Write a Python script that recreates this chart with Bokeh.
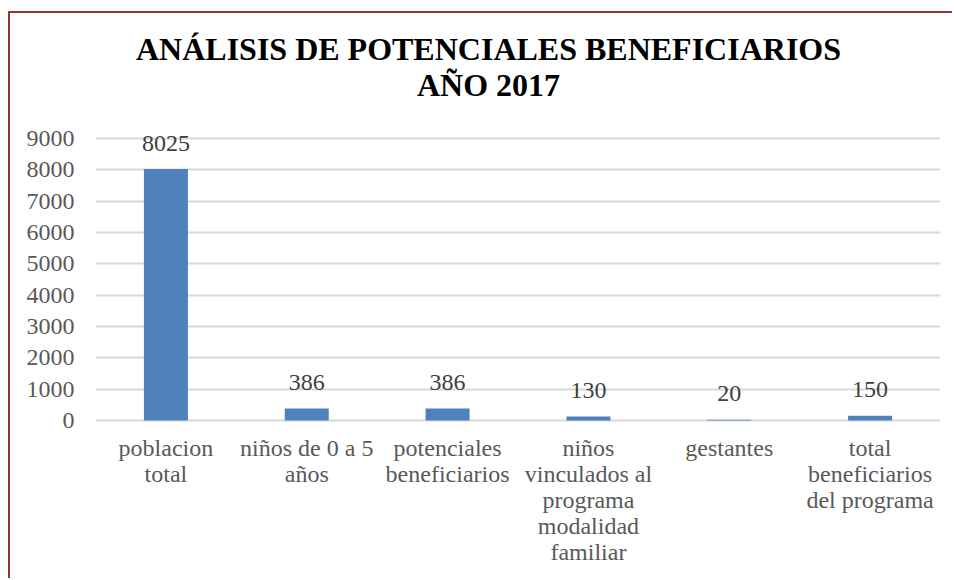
from bokeh.plotting import figure
from bokeh.models import FixedTicker, Label, ColumnDataSource, Range1d
from bokeh.core.properties import value
from bokeh.embed import file_html
from bokeh.resources import INLINE

categories = ["poblacion\ntotal", "niños de 0 a 5\naños", "potenciales\nbeneficiarios",
              "niños\nvinculados al\nprograma\nmodalidad\nfamiliar", "gestantes",
              "total\nbeneficiarios\ndel programa"]
values = [8025, 386, 386, 130, 20, 150]
value_labels = [str(v) for v in values]
y_ticks = [0, 1000, 2000, 3000, 4000, 5000, 6000, 7000, 8000, 9000]
title_lines = ["ANÁLISIS DE POTENCIALES BENEFICIARIOS", "AÑO 2017"]

FONT = "'Liberation Serif', 'Times New Roman', serif"
BORDER = "#993333"

# layout (page pixels)
CANVAS_TOP, CANVAS_BOTTOM = 13, 580
ZERO_PX, TOP_PX = 420, 138           # pixel rows of y=0 and y=9000
per_px = 9000 / (ZERO_PX - TOP_PX)
y_hi = (ZERO_PX - CANVAS_TOP) * per_px
y_lo = -(CANVAS_BOTTOM - ZERO_PX) * per_px

src = ColumnDataSource(dict(cat=categories, val=values, lab=value_labels,
                            zero=[0] * len(values)))

p = figure(x_range=categories, y_range=Range1d(y_lo, y_hi),
           width=944, height=CANVAS_BOTTOM - CANVAS_TOP,
           output_backend="svg", toolbar_location=None, x_axis_location=None,
           min_border_left=85, min_border_right=14, min_border_top=0, min_border_bottom=0)
p.x_range.range_padding = 0
p.outline_line_color = None
p.styles = {"border-top": f"2px solid {BORDER}", "border-left": f"2px solid {BORDER}",
            "margin-top": "11px", "margin-left": "8px"}

p.vbar(x="cat", top="val", width=0.3125, source=src, fill_color="#4F81BD", line_color=None)
p.text(x="cat", y="val", text="lab", source=src, text_align="center",
       text_baseline="alphabetic", y_offset=-26, text_font_size="24px",
       text_color="#404040", text_font=value(FONT))
p.text(x="cat", y="zero", text="cat", source=src, text_align="center",
       text_baseline="top", y_offset=14, text_font_size="24px", text_line_height=1.0,
       text_color="#595959", text_font=value(FONT))

p.xgrid.grid_line_color = None
p.ygrid.grid_line_color = "#D9D9D9"
p.ygrid.grid_line_width = 2
p.yaxis.ticker = FixedTicker(ticks=y_ticks)
ax = p.yaxis[0]
ax.axis_line_color = None
ax.major_tick_line_color = None
ax.minor_tick_line_color = None
ax.major_tick_out = 0
ax.major_tick_in = 0
ax.major_label_text_font = FONT
ax.major_label_text_font_size = "24px"
ax.major_label_text_color = "#595959"
ax.major_label_standoff = 21

for txt, yoff in zip(title_lines, [CANVAS_BOTTOM - 48, CANVAS_BOTTOM - 84]):
    p.add_layout(Label(x=393, y=yoff, x_units="screen", y_units="screen", text=txt,
                       text_align="center", text_baseline="alphabetic",
                       text_font=FONT, text_font_style="bold", text_font_size="32px",
                       text_color="#000000"))

open("out.html", "w").write(file_html(p, INLINE))
